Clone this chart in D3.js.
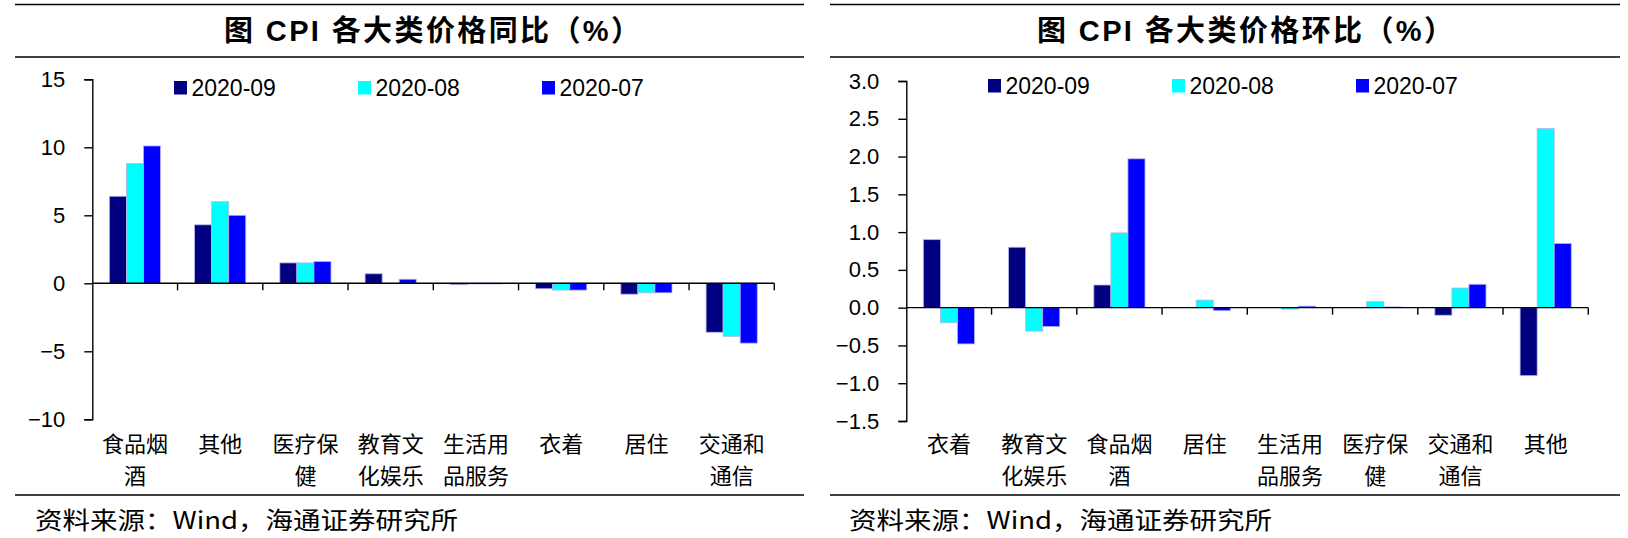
<!DOCTYPE html>
<html><head><meta charset="utf-8">
<script src="https://cdn.jsdelivr.net/npm/d3@7/dist/d3.min.js"></script>
<style>
html,body{margin:0;padding:0;background:#fff;}
svg{display:block;}
</style></head>
<body>
<svg id="c" width="1628" height="538"></svg>
<script>
// ---------- DATA ----------
const seriesNames = ["2020-09", "2020-08", "2020-07"];
const seriesColors = ["#000080", "#00FFFF", "#0000FF"];

// Left: YoY
const yoyCategories = ["食品烟酒", "其他", "医疗保健", "教育文化娱乐", "生活用品服务", "衣着", "居住", "交通和通信"];
const yoyLabels = [["食品烟","酒"],["其他"],["医疗保","健"],["教育文","化娱乐"],["生活用","品服务"],["衣着"],["居住"],["交通和","通信"]];
const yoy2020_09 = [6.4, 4.3, 1.5, 0.7, -0.1, -0.4, -0.8, -3.6];
const yoy2020_08 = [8.8, 6.0, 1.5, 0.0, -0.05, -0.5, -0.7, -3.9];
const yoy2020_07 = [10.1, 5.0, 1.6, 0.3, -0.05, -0.5, -0.7, -4.4];
const yoyTicks = [-10, -5, 0, 5, 10, 15];

// Right: MoM
const momCategories = ["衣着", "教育文化娱乐", "食品烟酒", "居住", "生活用品服务", "医疗保健", "交通和通信", "其他"];
const momLabels = [["衣着"],["教育文","化娱乐"],["食品烟","酒"],["居住"],["生活用","品服务"],["医疗保","健"],["交通和","通信"],["其他"]];
const mom2020_09 = [0.9, 0.8, 0.3, 0.0, 0.0, 0.0, -0.1, -0.9];
const mom2020_08 = [-0.2, -0.31, 0.99, 0.1, -0.02, 0.08, 0.26, 2.37];
const mom2020_07 = [-0.48, -0.25, 1.97, -0.04, 0.02, 0.01, 0.31, 0.85];
const momTicks = [-1.5, -1.0, -0.5, 0.0, 0.5, 1.0, 1.5, 2.0, 2.5, 3.0];

const titleLeft = "图  CPI 各大类价格同比（%）";
const titleRight = "图  CPI 各大类价格环比（%）";
const sourceText = "资料来源：Wind，海通证券研究所";

// ---------- DRAW ----------
const svg = d3.select("#c");
const latin = "'Liberation Sans', Arial, 'Noto Sans CJK SC', sans-serif";
const cjk = "'Noto Sans CJK SC', 'Liberation Sans', sans-serif";

function panel(cfg) {
  const g = svg.append("g");
  // frame lines
  [cfg.lineTop, cfg.lineMid, cfg.lineFoot].forEach(y => {
    g.append("line").attr("x1", cfg.lx0).attr("x2", cfg.lx1).attr("y1", y).attr("y2", y)
      .attr("stroke", "#000").attr("stroke-width", 1.6);
  });
  // title
  g.append("text").attr("x", cfg.titleX).attr("y", 31).attr("text-anchor", "middle")
    .attr("dominant-baseline", "central")
    .attr("font-family", "'Liberation Sans Narrow', 'Liberation Sans', 'Noto Sans CJK SC', sans-serif")
    .attr("font-weight", "bold").attr("font-size", 29)
    .attr("textLength", 416).attr("lengthAdjust", "spacing")
    .text(cfg.title);

  const x0 = d3.scaleBand().domain(cfg.cats).range([cfg.axisX, cfg.plotRight])
    .paddingInner(0.4).paddingOuter(0.2);
  const xOuter = d3.scaleBand().domain(cfg.cats).range([cfg.axisX, cfg.plotRight]).padding(0);
  const x1 = d3.scaleBand().domain(seriesNames).range([0, x0.bandwidth()]).padding(0);
  const y = d3.scaleLinear().domain(cfg.domain).range([cfg.yBot, cfg.yTop]);

  // bars
  seriesNames.forEach((s, si) => {
    const vals = cfg.series[si];
    g.append("g").selectAll("rect").data(vals).join("rect")
      .attr("x", (d, i) => x0(cfg.cats[i]) + x1(s))
      .attr("width", x1.bandwidth())
      .attr("y", d => Math.min(y(d), y(0)))
      .attr("height", d => Math.abs(y(d) - y(0)))
      .attr("fill", seriesColors[si])
      .attr("stroke", "#b4b4e6").attr("stroke-width", 0.8);
  });

  // y axis
  const yAxis = d3.axisLeft(y).tickValues(cfg.ticks).tickSize(8).tickPadding(19)
    .tickFormat(cfg.fmt);
  const ya = g.append("g").attr("transform", `translate(${cfg.axisX},0)`).call(yAxis);
  ya.select(".domain").attr("stroke", "#000").attr("stroke-width", 1.4);
  ya.selectAll(".tick line").attr("stroke", "#000").attr("stroke-width", 1.4);
  ya.selectAll(".tick text").attr("font-family", latin).attr("font-size", 22).attr("fill", "#000");

  // x axis at zero
  const xa = g.append("g").attr("transform", `translate(0,${y(0)})`);
  xa.append("line").attr("x1", cfg.axisX).attr("x2", cfg.plotRight).attr("y1", 0).attr("y2", 0)
    .attr("stroke", "#000").attr("stroke-width", 1.4);
  const bounds = cfg.cats.map(c => xOuter(c) + xOuter.bandwidth()).slice(0);
  xa.selectAll("line.tk").data(bounds).join("line").attr("class", "tk")
    .attr("x1", d => d).attr("x2", d => d).attr("y1", 0).attr("y2", 7)
    .attr("stroke", "#000").attr("stroke-width", 1.4);

  // category labels
  const lab = g.append("g");
  cfg.cats.forEach((c, i) => {
    const cx = xOuter(c) + xOuter.bandwidth() / 2;
    cfg.labels[i].forEach((ln, li) => {
      lab.append("text").attr("x", cx).attr("y", 442 + li * 31.5)
        .attr("text-anchor", "middle").attr("dominant-baseline", "central")
        .attr("font-family", cjk).attr("font-size", 22).attr("fill", "#000")
        .text(ln);
    });
  });

  // legend
  const lg = g.append("g");
  seriesNames.forEach((s, i) => {
    const lx = cfg.axisX + 81.7 + i * 184;
    lg.append("rect").attr("x", lx).attr("y", cfg.legY).attr("width", 13).attr("height", 13.5)
      .attr("fill", seriesColors[i]);
    lg.append("text").attr("x", lx + 17.5).attr("y", cfg.legY + 7).attr("dominant-baseline", "central")
      .attr("font-family", latin).attr("font-size", 23).attr("fill", "#000").text(s);
  });

  // source
  g.append("text").attr("x", cfg.srcX).attr("y", 518).attr("dominant-baseline", "central")
    .attr("font-family", cjk).attr("font-size", 24).attr("fill", "#000")
    .attr("textLength", 423).attr("lengthAdjust", "spacingAndGlyphs")
    .text(sourceText);
}

panel({
  lx0: 15, lx1: 804, lineTop: 4.5, lineMid: 57, lineFoot: 495,
  title: titleLeft, titleX: 432,
  cats: yoyCategories, labels: yoyLabels,
  series: [yoy2020_09, yoy2020_08, yoy2020_07],
  axisX: 92.3, plotRight: 774.3, yTop: 79.3, yBot: 419.3,
  domain: [-10, 15], ticks: yoyTicks, fmt: d3.format("d"),
  legY: 81, srcX: 35
});
panel({
  lx0: 830, lx1: 1620, lineTop: 4.5, lineMid: 57, lineFoot: 495,
  title: titleRight, titleX: 1245,
  cats: momCategories, labels: momLabels,
  series: [mom2020_09, mom2020_08, mom2020_07],
  axisX: 906.3, plotRight: 1588.3, yTop: 81, yBot: 421,
  domain: [-1.5, 3], ticks: momTicks, fmt: d3.format(".1f"),
  legY: 79, srcX: 849
});
</script>
</body></html>
